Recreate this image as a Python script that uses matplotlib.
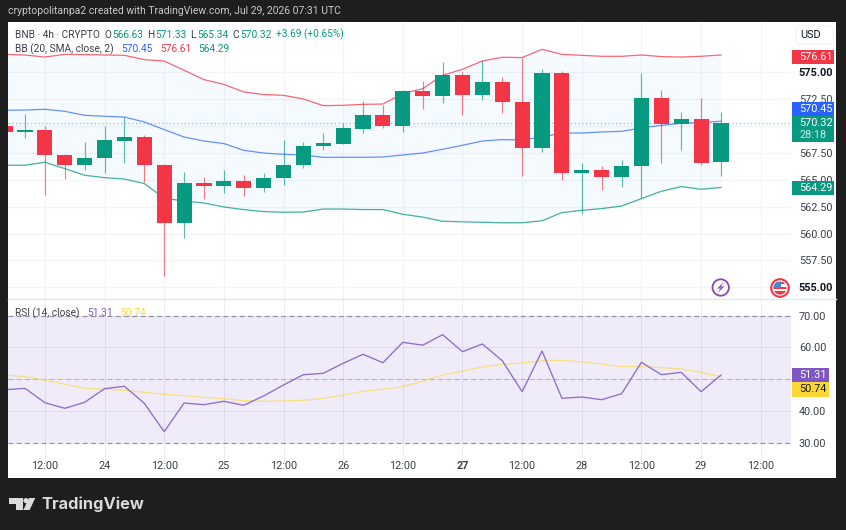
import matplotlib
matplotlib.use('Agg')
import matplotlib.pyplot as plt
from matplotlib.patches import Circle, FancyBboxPatch, Polygon, Rectangle

# 4h candles, oldest first
opens = [570.04, 569.42, 569.60, 567.31, 566.35, 567.03, 568.65, 568.95, 566.41, 561.02, 564.74, 564.42, 564.89,
         564.24, 565.14, 566.35, 568.14, 568.33, 569.73, 571.07, 570.04, 573.30, 572.83, 574.72, 572.93, 574.07,
         572.27, 567.96, 574.91, 565.63, 565.91, 565.30, 566.32, 572.65, 570.16, 570.69, 566.63]
highs = [570.72, 571.09, 569.98, 567.37, 568.49, 569.98, 570.81, 569.14, 566.45, 565.70, 565.23, 565.88, 565.48,
         565.63, 568.67, 568.52, 569.39, 570.28, 572.33, 571.93, 573.39, 574.16, 575.93, 575.03, 576.12, 574.56,
         576.37, 575.34, 575.12, 566.56, 566.26, 566.81, 574.97, 573.33, 571.28, 572.65, 571.33]
lows = [569.14, 568.86, 563.56, 565.05, 565.88, 565.63, 566.53, 564.80, 556.05, 559.62, 563.21, 563.81, 563.49,
        563.90, 564.55, 566.10, 567.74, 568.30, 569.35, 569.82, 569.42, 571.62, 572.18, 571.07, 572.40, 571.19,
        565.33, 567.56, 564.95, 561.86, 564.09, 564.33, 563.31, 566.56, 567.74, 566.35, 565.34]
closes = [569.45, 569.63, 567.28, 566.35, 567.07, 568.70, 568.95, 566.41, 561.02, 564.70, 564.42, 564.89, 564.24,
          565.14, 566.35, 568.18, 568.40, 569.79, 571.07, 570.04, 573.26, 572.83, 574.72, 572.93, 574.07, 572.27,
          567.96, 574.91, 565.63, 565.91, 565.30, 566.32, 572.65, 570.16, 570.69, 566.56, 570.32]

# Bollinger bands
bb_upper = [576.67, 576.61, 576.42, 576.67, 576.65, 576.61, 576.58, 576.18, 576.05, 575.19, 574.32, 573.88, 573.17,
            572.93, 572.86, 572.52, 571.90, 571.93, 572.02, 572.05, 573.02, 573.48, 574.72, 575.28, 576.05, 576.40,
            576.37, 577.14, 576.67, 576.58, 576.49, 576.49, 576.61, 576.46, 576.42, 576.49, 576.61]
bb_basis = [571.47, 571.49, 571.56, 571.37, 571.00, 570.91, 570.84, 570.38, 569.67, 568.98, 568.61, 568.37, 567.74,
            567.49, 567.37, 567.31, 567.09, 567.09, 567.09, 567.12, 567.31, 567.49, 567.84, 568.21, 568.61, 568.74,
            568.70, 568.98, 569.35, 569.35, 569.45, 569.51, 569.82, 570.07, 570.26, 570.32, 570.45]
bb_lower = [566.35, 566.35, 566.63, 566.04, 565.42, 565.20, 565.07, 564.65, 563.28, 563.03, 562.84, 562.47, 562.23,
            562.04, 561.98, 562.00, 562.28, 562.28, 562.23, 562.23, 561.79, 561.53, 561.14, 561.09, 561.05, 561.00,
            561.00, 561.19, 561.95, 562.16, 562.32, 562.56, 563.25, 563.93, 564.37, 564.12, 564.29]

rsi = [46.69, 47.13, 42.60, 40.83, 42.72, 47.01, 47.76, 42.41, 33.46, 42.50, 41.97, 43.04, 41.78, 44.71, 48.17,
       51.42, 51.86, 55.01, 57.84, 55.20, 61.62, 60.71, 64.02, 58.66, 61.09, 55.83, 46.06, 58.88, 43.98, 44.39,
       43.54, 45.43, 55.32, 51.42, 52.17, 46.06, 51.31]
rsi_ma = [51.32, 50.79, 49.75, 48.39, 47.13, 46.82, 46.50, 45.87, 45.24, 44.80, 44.30, 43.86, 43.23, 43.04, 43.13,
          43.35, 43.98, 45.02, 46.19, 46.82, 47.64, 49.43, 51.32, 52.58, 53.84, 54.69, 55.10, 55.83, 55.95, 55.42,
          54.79, 53.94, 53.94, 53.62, 53.21, 52.17, 50.74]

time_ticks = [2, 5, 8, 11, 14, 17, 20, 23, 26, 29, 32, 35, 38]
time_labels = ['12:00', '24', '12:00', '25', '12:00', '26', '12:00', '27', '12:00', '28', '12:00', '29', '12:00']
price_ticks = [555, 557.5, 560, 562.5, 565, 567.5, 570, 572.5, 575]
rsi_ticks = [30, 40, 50, 60, 70]

GREEN = '#089981'
RED = '#f23645'
BLUE = '#2962ff'
PURPLE = '#7e57c2'
YELLOW = '#fdd835'
GRID = '#f3f4f7'
DARK = '#1e1e1e'
TEXT = '#3b3f4a'
FS = 7.8
LEGEND_FS = 7.3
W, H = 846, 530

plt.rcParams['font.family'] = ['Roboto', 'DejaVu Sans']

fig = plt.figure(figsize=(W / 100, H / 100), dpi=100, facecolor=DARK)


def px_axes(x0, y0, x1, y1, **kw):
    # axes placed by pixel box, y counted from the top
    return fig.add_axes([x0 / W, 1 - y1 / H, (x1 - x0) / W, (y1 - y0) / H], **kw)


back = px_axes(8, 22, 836, 478, facecolor='white')
back.set_xticks([])
back.set_yticks([])
for s in back.spines.values():
    s.set_visible(False)

x = list(range(len(closes)))
xlim = (0.146, 39.52)

# price pane
ax = px_axes(8, 22, 791, 299, facecolor='none')
ax.set_xlim(*xlim)
ax.set_ylim(553.91, 579.68)
ax.set_xticks(time_ticks)
ax.set_yticks(price_ticks)
ax.grid(color=GRID, linewidth=0.9)
ax.set_axisbelow(True)
ax.fill_between(x, bb_lower, bb_upper, color='#2196f3', alpha=0.042, linewidth=0, zorder=1)
ax.plot(x, bb_upper, color=RED, linewidth=0.9, alpha=0.75, zorder=2)
ax.plot(x, bb_basis, color=BLUE, linewidth=0.9, alpha=0.7, zorder=2)
ax.plot(x, bb_lower, color=GREEN, linewidth=0.9, alpha=0.75, zorder=2)
ax.axhline(closes[-1], color=GREEN, linewidth=0.9, linestyle=(0, (1, 2)), alpha=0.5, zorder=2)

for i in x:
    color = GREEN if closes[i] >= opens[i] else RED
    ax.vlines(i, lows[i], highs[i], color=color, linewidth=0.85, alpha=0.65, zorder=3)
    ax.bar(i, abs(closes[i] - opens[i]), bottom=min(opens[i], closes[i]), width=0.76,
           color=color, linewidth=0, zorder=4)

ax.tick_params(axis='x', length=0, labelbottom=False)
ax.yaxis.tick_right()
ax.tick_params(axis='y', length=0, pad=5.7, labelsize=FS, labelcolor=TEXT)
ax.set_yticklabels(['%.2f' % p for p in price_ticks])
for t, p in zip(ax.get_yticklabels(), price_ticks):
    if p in (555, 575):
        t.set_fontweight('bold')
        t.set_color('#131722')
    if p == 570:
        t.set_visible(False)  # sits under the last price badge
for s in ax.spines.values():
    s.set_visible(False)

# RSI pane
ax2 = px_axes(8, 299, 791, 462, facecolor='none')
ax2.set_xlim(*xlim)
ax2.set_ylim(23.92, 75.26)
ax2.set_xticks(time_ticks)
ax2.set_yticks(rsi_ticks)
ax2.grid(color='#eceaf3', linewidth=0.7)
ax2.set_axisbelow(True)
ax2.axhspan(30, 70, color=PURPLE, alpha=0.115, linewidth=0, zorder=1)
for level in (30, 50, 70):
    ax2.axhline(level, color='#787b86', linewidth=0.85, linestyle=(0, (4, 3)), alpha=0.8 if level != 50 else 0.4, zorder=2)
ax2.plot(x, rsi_ma, color=YELLOW, linewidth=0.95, alpha=0.6, zorder=3)
ax2.plot(x, rsi, color=PURPLE, linewidth=0.95, alpha=0.85, zorder=4)
ax2.set_xticklabels(time_labels)
ax2.tick_params(axis='x', length=0, pad=-1, labelsize=FS, labelcolor=TEXT)
ax2.yaxis.tick_right()
ax2.tick_params(axis='y', length=0, pad=5.7, labelsize=FS, labelcolor=TEXT)
ax2.set_yticklabels(['%.2f' % r for r in rsi_ticks])
ax2.get_yticklabels()[2].set_visible(False)
for t, lab in zip(ax2.get_xticklabels(), time_labels):
    if lab == '27':
        t.set_fontweight('bold')
for s in ax2.spines.values():
    s.set_visible(False)

# overlay in pixels for the header, badges and logo
top = fig.add_axes([0, 0, 1, 1], facecolor='none', zorder=20)
top.set_xlim(0, W)
top.set_ylim(H, 0)
top.axis('off')

top.plot([8, 836], [299.3, 299.3], color='#e4e6ea', linewidth=1)


def label(xp, yp, s, color=TEXT, size=FS, **kw):
    return top.text(xp, yp, s, color=color, fontsize=size, va='center', **kw)


def run(xp, yp, parts, size=LEGEND_FS):
    # consecutive text pieces on one baseline
    rend = fig.canvas.get_renderer()
    for s, c in parts:
        t = label(xp, yp, s, color=c, size=size)
        xp = t.get_window_extent(rend).x1


label(7.5, 11.5, 'cryptopolitanpa2 created with TradingView.com, Jul 29, 2026 07:31 UTC', color='#c9c9c9', size=7.5)

run(15, 34.5, [('BNB · 4h · CRYPTO  O', TEXT), ('566.63', GREEN), ('  H', TEXT), ('571.33', GREEN), ('  L', TEXT),
               ('565.34', GREEN), ('  C', TEXT), ('570.32', GREEN), ('  +3.69 (+0.65%)', GREEN)])
run(15, 49, [('BB (20, SMA, close, 2)   ', TEXT), ('570.45', BLUE), ('   ', TEXT), ('576.61', RED), ('   ', TEXT),
             ('564.29', GREEN)])
run(15, 313, [('RSI (14, close)   ', TEXT), ('51.31', PURPLE), ('   ', TEXT), ('50.74', YELLOW)])

# currency button
top.add_patch(FancyBboxPatch((796, 26), 37, 18, boxstyle='round,pad=0,rounding_size=3', facecolor='white',
                             edgecolor='#f3f4f6', linewidth=0.8))
label(811, 35.5, 'USD', color='#131722', ha='center')


def badge(y0, y1, x1, color, lines, text_color='white'):
    top.add_patch(Rectangle((792, y0), x1 - 792, y1 - y0, facecolor=color, edgecolor='none'))
    step = (y1 - y0) / len(lines)
    for n, (s, c) in enumerate(lines):
        label(799, y0 + step * (n + 0.5), s, color=c or text_color)


badge(50, 63.5, 834, RED, [('%.2f' % bb_upper[-1], None)])
badge(101.5, 116, 834, BLUE, [('%.2f' % bb_basis[-1], None)])
badge(116, 142, 834, GREEN, [('%.2f' % closes[-1], None), ('28:18', '#c4ebe4')])
badge(180.7, 195, 834, GREEN, [('%.2f' % bb_lower[-1], None)])
badge(368.3, 382.3, 828.6, PURPLE, [('%.2f' % rsi[-1], None)])
badge(382.3, 396.7, 828.6, YELLOW, [('%.2f' % rsi_ma[-1], '#131722')])

# lightning marker
top.add_patch(Circle((720.7, 287.5), 8.2, facecolor='white', edgecolor='#8e44ad', linewidth=1.3))
top.add_patch(Polygon([(723.6, 281.8), (716.8, 288.6), (720.2, 288.6), (717.8, 293.2), (724.6, 286.4), (721.2, 286.4)],
                      facecolor='#9a5fbd', edgecolor='none'))

# economic event flag
top.add_patch(Circle((780, 288), 8.8, facecolor='white', edgecolor=RED, linewidth=1.5))
disc = Circle((780, 288), 6.6, transform=top.transData)
for yp, hp, col in ((282, 2.4, RED), (286.6, 2.4, RED), (291, 3.6, RED)):
    st = Rectangle((772, yp), 16, hp, facecolor=col, edgecolor='none')
    top.add_patch(st)
    st.set_clip_path(disc)
canton = Rectangle((772, 281), 9, 7, facecolor='#4a86d8', edgecolor='none')
top.add_patch(canton)
canton.set_clip_path(disc)

# logo
logo = '#dadada'
top.add_patch(Polygon([(9.3, 498), (22.7, 498), (22.7, 510), (15.7, 510), (15.7, 503.5), (9.3, 503.5)],
                      facecolor=logo, edgecolor='none'))
top.add_patch(Circle((26, 500.6), 2.6, facecolor=logo, edgecolor='none'))
top.add_patch(Polygon([(29, 498), (35.3, 498), (29.6, 510), (23.3, 510)], facecolor=logo, edgecolor='none'))
label(41.5, 504.5, 'TradingView', color=logo, size=11.8, family='Inter', fontweight='bold')

fig.savefig('out.png', dpi=100, facecolor=DARK)
